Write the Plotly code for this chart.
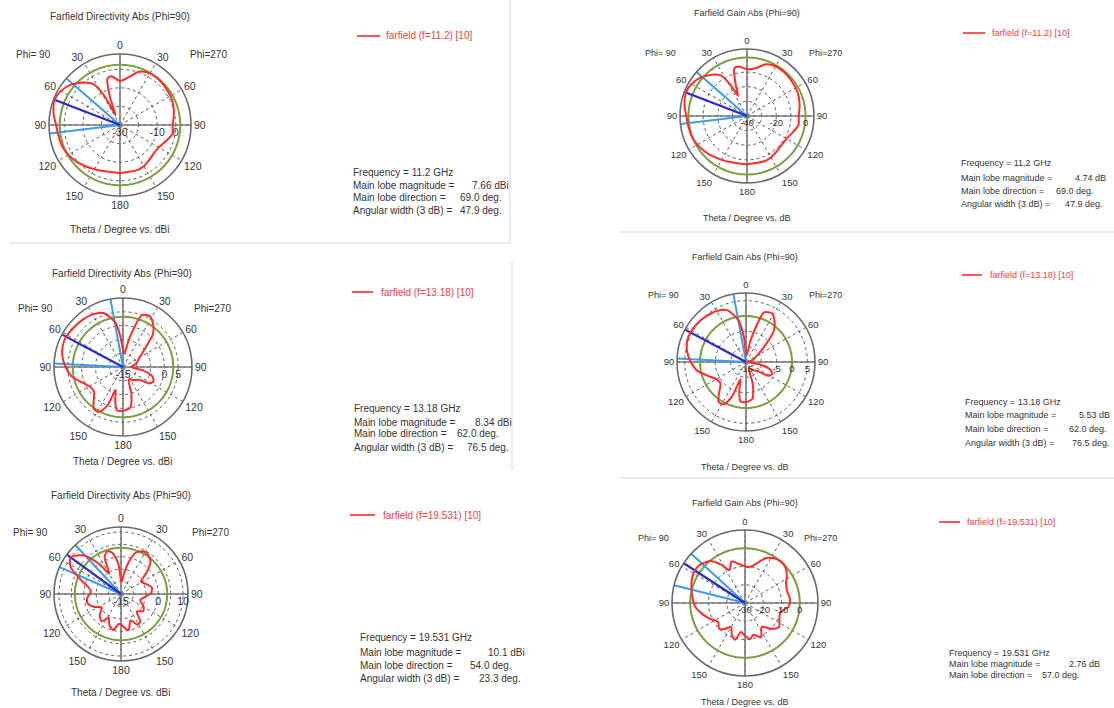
import plotly.graph_objects as go

W, H = 1114, 708
FONT = "Liberation Sans"

# Phi=90 farfield cuts. Signed theta (deg): positive on the Phi=90 half (left),
# negative on the Phi=270 half (right).
TH_D112 = [-180, -170, -160, -150, -140, -130, -120, -110, -100, -90, -80, -70, -60, -50, -40, -30, -20, -10,
           0, 10, 15, 20, 24, 28, 33, 40, 50, 60, 69, 80, 90, 100, 110, 120, 130, 140, 150, 160, 170, 180]
DIR_112 = [-4.2, -4.4, -4.0, -4.4, -5.5, -6.3, -5.9, -4.0, -1.4, -1.7, -0.6, 0.6, 1.3, 1.7, 2.1, 2.1, 0.6, -4.0,
           -6.3, -3.3, -4.0, -14.7, -24.3, -12.8, -4.0, -0.2, 4.0, 6.7, 7.66, 6.3, 4.4, 3.6, 3.2, 2.1, 0.6, -1.0, -2.5, -3.6, -4.2, -4.2]

TH_G112 = TH_D112
GAIN_112 = [-7.1, -7.3, -6.9, -7.3, -8.4, -9.2, -8.8, -6.9, -4.3, -4.6, -3.5, -2.3, -1.6, -1.2, -0.8, -0.8, -2.3, -6.9,
            -8.0, -5.6, -6.4, -17.6, -25.0, -15.7, -6.9, -3.1, 1.1, 3.8, 4.74, 3.4, 1.5, 0.7, 0.3, -0.8, -2.3, -3.9, -5.4, -6.5, -7.1, -7.1]

TH_D1318 = [-180, -175, -170, -163, -155, -140, -128, -122, -115, -108, -100, -90, -75, -62, -50, -42, -35, -28, -20, -16, -12, -6,
            0, 5, 10, 20, 30, 40, 50, 62, 70, 80, 90, 100, 110, 120, 130, 138, 145, 152, 158, 162, 167, 172, 180]
DIR_1318 = [0.9, 0.5, 0.0, -4.5, -10.0, -8.8, -7.5, -3.8, -2.8, -3.8, -7.5, -12.0, -10.0, -8.5, -4.5, 1.3, 4.0, 5.8, 5.0, 0.0, -5.0, -10.0,
            -8.8, -3.8, 1.5, 5.8, 7.0, 7.5, 7.8, 8.34, 8.2, 7.3, 5.8, 4.0, 1.0, -1.0, -1.3, 0.8, 3.5, 3.5, 0.0, -6.3, -2.5, 0.8, 0.9]

TH_G1318 = TH_D1318
GAIN_1318 = [-1.9, -2.3, -2.8, -7.3, -12.8, -11.6, -10.3, -6.6, -5.6, -6.6, -10.3, -14.5, -12.8, -11.3, -7.3, -1.5, 1.2, 3.0, 2.2, -2.8, -7.8, -12.8,
             -11.6, -6.6, -1.3, 3.0, 4.2, 4.7, 5.2, 5.53, 5.4, 4.5, 3.0, 1.2, -1.8, -3.8, -4.1, -2.0, 0.7, 0.7, -2.8, -9.1, -5.3, -2.0, -1.9]

TH_D19 = [-180, -175, -168, -160, -152, -145, -138, -128, -118, -108, -98, -88, -78, -68, -58, -50, -42, -35, -28, -20, -14, -8, -3,
          0, 5, 12, 18, 24, 30, 36, 44, 54, 62, 70, 78, 87, 95, 105, 115, 125, 135, 145, 152, 160, 168, 175, 180]
DIR_19 = [-2.85, -1.5, -0.15, -3.66, -0.96, -1.5, -5.55, -3.66, -4.74, -6.9, -5.55, -2.85, -2.3, -4.2, -5.55, -1.5, 2.8, 4.2, 4.4, 2.8, -1.5, -6.9, -10.1,
          -9.6, -2.85, 2.0, 3.1, 1.2, -5.55, -0.15, 6.6, 10.1, 7.95, 2.55, -1.5, -2.85, -1.5, -0.96, -2.85, -5.55, -2.85, -1.5, -4.2, -1.5, -0.15, -2.85, -2.85]

TH_G19 = [-180, -172, -165, -155, -145, -135, -125, -115, -105, -95, -85, -75, -65, -55, -45, -35, -25, -15, -8,
          0, 10, 18, 25, 32, 40, 50, 57, 65, 75, 85, 95, 105, 115, 125, 135, 142, 150, 158, 165, 172, 180]
GAIN_19 = [-12.0, -10.0, -12.0, -9.2, -14.0, -10.0, -7.2, -9.2, -10.0, -6.0, -5.2, -6.0, -5.2, -2.0, 0.0, -0.4, -2.8, -8.0, -10.0,
           -10.0, -8.0, -6.0, -10.0, -5.2, 0.0, 2.4, 2.76, 2.0, 0.4, -1.2, -2.8, -6.0, -9.2, -12.0, -10.0, -12.0, -14.8, -10.8, -9.2, -14.0, -12.0]

# Reference (green) levels, main lobe directions and 3 dB beam edges
GREEN = [2.4, 3.2, 3.6, 0.0, 0.0, 0.0]
MAIN_DIR = [69.0, 62.0, 54.0, 69.0, 62.0, 57.0]
EDGES = [(49.0, 96.9), (10.5, 87.0), (43.0, 66.3), (49.0, 96.9), (10.5, 87.0), (47.5, 76.0)]

TITLES = ["Farfield Directivity Abs (Phi=90)"] * 3 + ["Farfield Gain Abs (Phi=90)"] * 3
FOOTERS = ["Theta / Degree vs. dBi"] * 3 + ["Theta / Degree vs. dB"] * 3
LEGENDS = ["farfield (f=11.2) [10]", "farfield (f=13.18) [10]", "farfield (f=19.531) [10]"] * 2
FREQS = ["11.2", "13.18", "19.531", "11.2", "13.18", "19.531"]
MAGS = ["7.66 dBi", "8.34 dBi", "10.1 dBi", "4.74 dB", "5.53 dB", "2.76 dB"]
DIRS_TXT = ["69.0 deg.", "62.0 deg.", "54.0 deg.", "69.0 deg.", "62.0 deg.", "57.0 deg."]
WIDTHS_TXT = ["47.9 deg.", "76.5 deg.", "23.3 deg.", "47.9 deg.", "76.5 deg.", None]

SERIES = [(TH_D112, DIR_112), (TH_D1318, DIR_1318), (TH_D19, DIR_19),
          (TH_G112, GAIN_112), (TH_G1318, GAIN_1318), (TH_G19, GAIN_19)]

# panel geometry (pixels) and radial axes
PANELS = [
    dict(cx=120, cy=125, rad=71, rng=[-30, 8.2], grid=[-30, -20, -10, 0], lab=["-30", "", "-10", "0"],
         title=(120, 16), p90=(33, 55), p270=(208, 55), foot=(120, 230), leg=(357, 380, 36, 384),
         info=(351, [173, 186, 198, 211], [470, 458, 458]), fs=10),
    dict(cx=123, cy=367, rad=69, rng=[-15, 10], grid=[-15, -10, -5, 0, 5], lab=["-15", "", "", "0", "5"],
         title=(122, 273), p90=(35, 308), p270=(212, 308), foot=(123, 461), leg=(352, 373, 292, 379),
         info=(352, [408, 422, 434, 447], [473, 455, 465]), fs=10),
    dict(cx=121, cy=594, rad=67, rng=[-15, 12], grid=[-15, -10, -5, 0, 5, 10], lab=["-15", "", "", "0", "", "10"],
         title=(121, 495), p90=(30, 532), p270=(210, 532), foot=(121, 692), leg=(350, 375, 515, 381),
         info=(358, [637, 652, 665, 678], [486, 468, 477]), fs=10),
    dict(cx=747, cy=116, rad=67, rng=[-40, 5.8], grid=[-40, -30, -20, -10, 0], lab=["-40", "", "-20", "", "0"],
         title=(747, 13), p90=(660, 53), p270=(825, 53), foot=(747, 218), leg=(963, 985, 33, 990),
         info=(959, [163, 178, 191, 204], [1073, 1054, 1063]), fs=9),
    dict(cx=746, cy=362, rad=69, rng=[-15, 7.5], grid=[-15, -10, -5, 0, 5], lab=["-15", "", "-5", "0", "5"],
         title=(745, 257), p90=(663, 295), p270=(825, 295), foot=(745, 467), leg=(962, 982, 275, 988),
         info=(963, [402, 415, 429, 443], [1077, 1067, 1070]), fs=9),
    dict(cx=745, cy=603, rad=73, rng=[-30, 10], grid=[-30, -20, -10, 0], lab=["-30", "-20", "-10", "0"],
         title=(745, 503), p90=(653, 538), p270=(820, 538), foot=(745, 702), leg=(939, 960, 522, 965),
         info=(947, [653, 664, 675], [1067, 1040]), fs=9),
]

RED = "#ff2a2a"
NAVY = "#2a2ac8"
SKY = "#3a9cf0"
OLIVE = "#78a040"
AXIS = "#7a7a7a"
GRID = "#5a5a5a"
TXT = "#333333"


def px(x):
    return x / W


def py(y):
    return 1 - y / H


fig = go.Figure()
annotations = []
shapes = []
layout = {}

for i, (p, (th, r)) in enumerate(zip(PANELS, SERIES)):
    name = "polar" if i == 0 else f"polar{i + 1}"
    sub = name
    lo, hi = p["rng"]
    layout[name] = dict(
        domain=dict(x=[px(p["cx"] - p["rad"]), px(p["cx"] + p["rad"])],
                    y=[py(p["cy"] + p["rad"]), py(p["cy"] - p["rad"])]),
        bgcolor="white",
        angularaxis=dict(rotation=90, direction="counterclockwise",
                         tickvals=list(range(0, 360, 30)),
                         ticktext=["0", "30", "60", "90", "120", "150", "180", "150", "120", "90", "60", "30"],
                         showgrid=True, gridcolor=GRID, griddash="dot", gridwidth=1,
                         showline=True, linecolor="#6a6a6a", linewidth=1.6, ticks="",
                         tickfont=dict(family=FONT, size=p["fs"] + 0.5, color=TXT)),
        radialaxis=dict(range=[lo, hi], tickvals=p["grid"], ticktext=p["lab"], angle=0, side="clockwise",
                        showline=False, ticks="", showgrid=True, gridcolor=GRID, griddash="dot",
                        gridwidth=1, tickfont=dict(family=FONT, size=p["fs"] + 0.5, color=TXT)),
    )
    # solid crosshair axes
    fig.add_trace(go.Scatterpolar(r=[hi, lo, hi], theta=[0, 0, 180], mode="lines",
                                  line=dict(color=AXIS, width=1.6), subplot=sub, showlegend=False, hoverinfo="skip"))
    fig.add_trace(go.Scatterpolar(r=[hi, lo, hi], theta=[90, 90, 270], mode="lines",
                                  line=dict(color=AXIS, width=1.6), subplot=sub, showlegend=False, hoverinfo="skip"))
    # reference level circle
    ring = list(range(0, 362, 2))
    fig.add_trace(go.Scatterpolar(r=[GREEN[i]] * len(ring), theta=ring, mode="lines",
                                  line=dict(color=OLIVE, width=2), subplot=sub, showlegend=False, hoverinfo="skip"))
    # 3 dB edges and main lobe direction
    for e in EDGES[i]:
        fig.add_trace(go.Scatterpolar(r=[lo, hi], theta=[e, e], mode="lines",
                                      line=dict(color=SKY, width=2), subplot=sub, showlegend=False, hoverinfo="skip"))
    fig.add_trace(go.Scatterpolar(r=[lo, hi], theta=[MAIN_DIR[i], MAIN_DIR[i]], mode="lines",
                                  line=dict(color=NAVY, width=2.2), subplot=sub, showlegend=False, hoverinfo="skip"))
    # pattern
    fig.add_trace(go.Scatterpolar(r=r, theta=th, mode="lines",
                                  line=dict(color=RED, width=2, shape="spline", smoothing=0.7),
                                  subplot=sub, showlegend=False, name=LEGENDS[i]))

    fs = p["fs"]
    f = dict(family=FONT, size=fs, color=TXT)
    annotations.append(dict(text=TITLES[i], x=px(p["title"][0]), y=py(p["title"][1]), xanchor="center", yanchor="middle", font=f))
    annotations.append(dict(text="Phi= 90", x=px(p["p90"][0]), y=py(p["p90"][1]), xanchor="center", yanchor="middle", font=f))
    annotations.append(dict(text="Phi=270", x=px(p["p270"][0]), y=py(p["p270"][1]), xanchor="center", yanchor="middle", font=f))
    annotations.append(dict(text=FOOTERS[i], x=px(p["foot"][0]), y=py(p["foot"][1]), xanchor="center", yanchor="middle", font=f))

    x0, x1, ly, tx = p["leg"]
    shapes.append(dict(type="line", xref="paper", yref="paper", x0=px(x0), x1=px(x1), y0=py(ly), y1=py(ly),
                       line=dict(color=RED, width=1.6)))
    annotations.append(dict(text=LEGENDS[i], x=px(tx), y=py(ly), xanchor="left", yanchor="middle",
                            font=dict(family=FONT, size=fs, color="#f04040")))

    ix, iys, ivx = p["info"]
    labels = [f"Frequency = {FREQS[i]} GHz", "Main lobe magnitude =", "Main lobe direction =", "Angular width (3 dB) ="]
    values = [MAGS[i], DIRS_TXT[i], WIDTHS_TXT[i]]
    for k, yy in enumerate(iys):
        annotations.append(dict(text=labels[k], x=px(ix), y=py(yy), xanchor="left", yanchor="middle", font=f))
        if k > 0:
            annotations.append(dict(text=values[k - 1], x=px(ivx[k - 1]), y=py(yy), xanchor="left",
                                    yanchor="middle", font=f))

for a in annotations:
    a.update(xref="paper", yref="paper", showarrow=False)

# panel frame lines
FRAME = "#d8d8d8"
for (x0, y0, x1, y1) in [(510, 0, 510, 243), (10, 243, 510, 243), (512, 262, 512, 470),
                         (620, 232, 1114, 232), (620, 478, 1114, 478)]:
    shapes.append(dict(type="line", xref="paper", yref="paper", x0=px(x0), x1=px(x1), y0=py(y0), y1=py(y1),
                       line=dict(color=FRAME, width=1)))

fig.update_layout(width=W, height=H, margin=dict(l=0, r=0, t=0, b=0), paper_bgcolor="white",
                  plot_bgcolor="white", showlegend=False, annotations=annotations, shapes=shapes, **layout)

fig.write_html("out.html")
